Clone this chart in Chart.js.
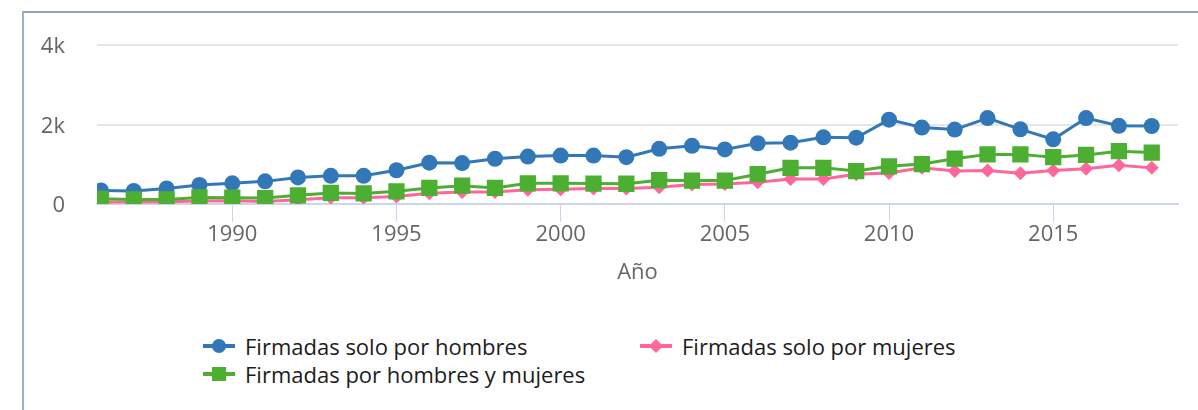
<!DOCTYPE html>
<html>
<head>
<meta charset="utf-8">
<script src="https://cdn.jsdelivr.net/npm/chart.js@4.4.1/dist/chart.umd.min.js"></script>
<style>
    body { margin: 0; background: #fff; font-family: "Open Sans", sans-serif; }
    #wrap { position: relative; width: 1198px; height: 410px; overflow: hidden; }
    #frame { position: absolute; left: 22px; top: 11px; width: 1300px; height: 500px;
             border-left: 2px solid #9fb1c9; border-top: 2px solid #8ea2bd; }
    #chartBox { position: absolute; left: 0; top: 0; width: 1198px; height: 300px; }
    #legend { position: absolute; left: 203px; top: 332px; display: grid;
              grid-template-columns: 437px 437px; row-gap: 0; }
    .item { display: flex; align-items: center; height: 28px; font-size: 22px; color: #1c1c1c; }
    .sym { position: relative; width: 32px; height: 20px; margin-right: 10px; }
    .sym .ln { position: absolute; left: 0; top: 8px; width: 32px; height: 4px; }
    .sym .mk { position: absolute; }
</style>
</head>
<body>
<div id="wrap">
    <div id="frame"></div>
    <div id="chartBox"><canvas id="lineChart" width="1198" height="300"></canvas></div>
    <div id="legend"></div>
</div>
<script>
// años y valores
const years = [1986, 1987, 1988, 1989, 1990, 1991, 1992, 1993, 1994, 1995, 1996,
    1997, 1998, 1999, 2000, 2001, 2002, 2003, 2004, 2005, 2006, 2007,
    2008, 2009, 2010, 2011, 2012, 2013, 2014, 2015, 2016, 2017, 2018];

const soloHombres = [340, 330, 390, 480, 520, 570, 670, 710, 710, 850, 1040,
    1030, 1140, 1195, 1220, 1220, 1180, 1390, 1465, 1375, 1530, 1545,
    1680, 1670, 2125, 1925, 1875, 2165, 1880, 1630, 2165, 1970, 1965];

const soloMujeres = [50, 50, 55, 75, 80, 60, 110, 160, 160, 190, 270,
    300, 300, 360, 370, 390, 390, 420, 490, 505, 550, 630,
    630, 750, 780, 915, 830, 845, 775, 845, 885, 975, 910];

const hombresYMujeres = [130, 115, 115, 165, 160, 150, 220, 280, 265, 320, 405,
    460, 405, 520, 520, 515, 510, 600, 590, 590, 750, 910,
    910, 830, 950, 1005, 1140, 1250, 1250, 1180, 1235, 1330, 1295];

const xTicks = [1990, 1995, 2000, 2005, 2010, 2015];
const yTicks = [0, 2000, 4000];

const seriesNames = ['Firmadas solo por hombres', 'Firmadas solo por mujeres', 'Firmadas por hombres y mujeres'];

const BLUE = '#3278b8';
const PINK = '#ff6699';
const GREEN = '#4caf32';

function toPoints(values) {
    return years.map((yr, i) => ({ x: yr, y: values[i] }));
}

const textColor = '#666666';

const lineChart = new Chart(document.getElementById('lineChart'), {
    type: 'line',
    data: {
        datasets: [
            {
                label: seriesNames[0],
                data: toPoints(soloHombres),
                borderColor: BLUE,
                backgroundColor: BLUE,
                borderWidth: 3,
                pointStyle: 'circle',
                pointRadius: 8,
                pointBorderWidth: 0,
                order: 3
            },
            {
                label: seriesNames[1],
                data: toPoints(soloMujeres),
                borderColor: PINK,
                backgroundColor: PINK,
                borderWidth: 3,
                pointStyle: 'rectRot',
                pointRadius: 7,
                pointBorderWidth: 0,
                order: 2
            },
            {
                label: seriesNames[2],
                data: toPoints(hombresYMujeres),
                borderColor: GREEN,
                backgroundColor: GREEN,
                borderWidth: 3,
                pointStyle: 'rect',
                pointRadius: 11.5,
                pointBorderWidth: 0,
                order: 1
            }
        ]
    },
    options: {
        responsive: false,
        animation: false,
        layout: { padding: { left: 0, top: 38, right: 20, bottom: 0 } },
        plugins: {
            legend: { display: false },
            tooltip: { enabled: false }
        },
        scales: {
            x: {
                type: 'linear',
                min: 1985.88,
                max: 2018.8,
                afterBuildTicks: function (scale) {
                    scale.ticks = xTicks.map(v => ({ value: v }));
                },
                afterFit: function (scale) { scale.height = 96; },
                grid: {
                    drawOnChartArea: false,
                    drawTicks: true,
                    tickLength: 18,
                    tickWidth: 1,
                    color: '#ccd6eb'
                },
                border: { display: true, color: '#ccd6eb', width: 2 },
                ticks: {
                    padding: 0,
                    color: textColor,
                    font: { family: 'Open Sans', size: 22 },
                    maxRotation: 0,
                    callback: v => String(v)
                },
                title: {
                    display: true,
                    text: 'Año',
                    color: textColor,
                    font: { family: 'Open Sans', size: 22 },
                    padding: { top: 0, bottom: 14 }
                }
            },
            y: {
                min: 0,
                max: 4000,
                afterBuildTicks: function (scale) {
                    scale.ticks = yTicks.map(v => ({ value: v }));
                },
                afterFit: function (scale) { scale.width = 97; },
                grid: { color: '#e6e6e6', lineWidth: 2, drawTicks: false },
                border: { display: false },
                ticks: {
                    padding: 32,
                    labelOffset: 2,
                    color: textColor,
                    font: { family: 'Open Sans', size: 22 },
                    callback: v => v === 0 ? '0' : (v / 1000) + 'k'
                }
            }
        }
    }
});

// leyenda en HTML (dos columnas como en el original)
function buildLegend(chart) {
    const legend = document.getElementById('legend');
    chart.data.datasets.forEach(ds => {
        const item = document.createElement('div');
        item.className = 'item';
        const sym = document.createElement('div');
        sym.className = 'sym';
        const ln = document.createElement('div');
        ln.className = 'ln';
        ln.style.background = ds.borderColor;
        const mk = document.createElement('div');
        mk.className = 'mk';
        mk.style.background = ds.backgroundColor;
        if (ds.pointStyle === 'circle') {
            Object.assign(mk.style, { left: '9px', top: '3px', width: '14px', height: '14px', borderRadius: '50%' });
        } else if (ds.pointStyle === 'rect') {
            Object.assign(mk.style, { left: '9px', top: '3px', width: '14px', height: '14px' });
        } else {
            Object.assign(mk.style, { left: '11px', top: '5px', width: '10px', height: '10px', transform: 'rotate(45deg)' });
        }
        sym.appendChild(ln);
        sym.appendChild(mk);
        const label = document.createElement('span');
        label.textContent = ds.label;
        item.appendChild(sym);
        item.appendChild(label);
        legend.appendChild(item);
    });
}

buildLegend(lineChart);
</script>
</body>
</html>
